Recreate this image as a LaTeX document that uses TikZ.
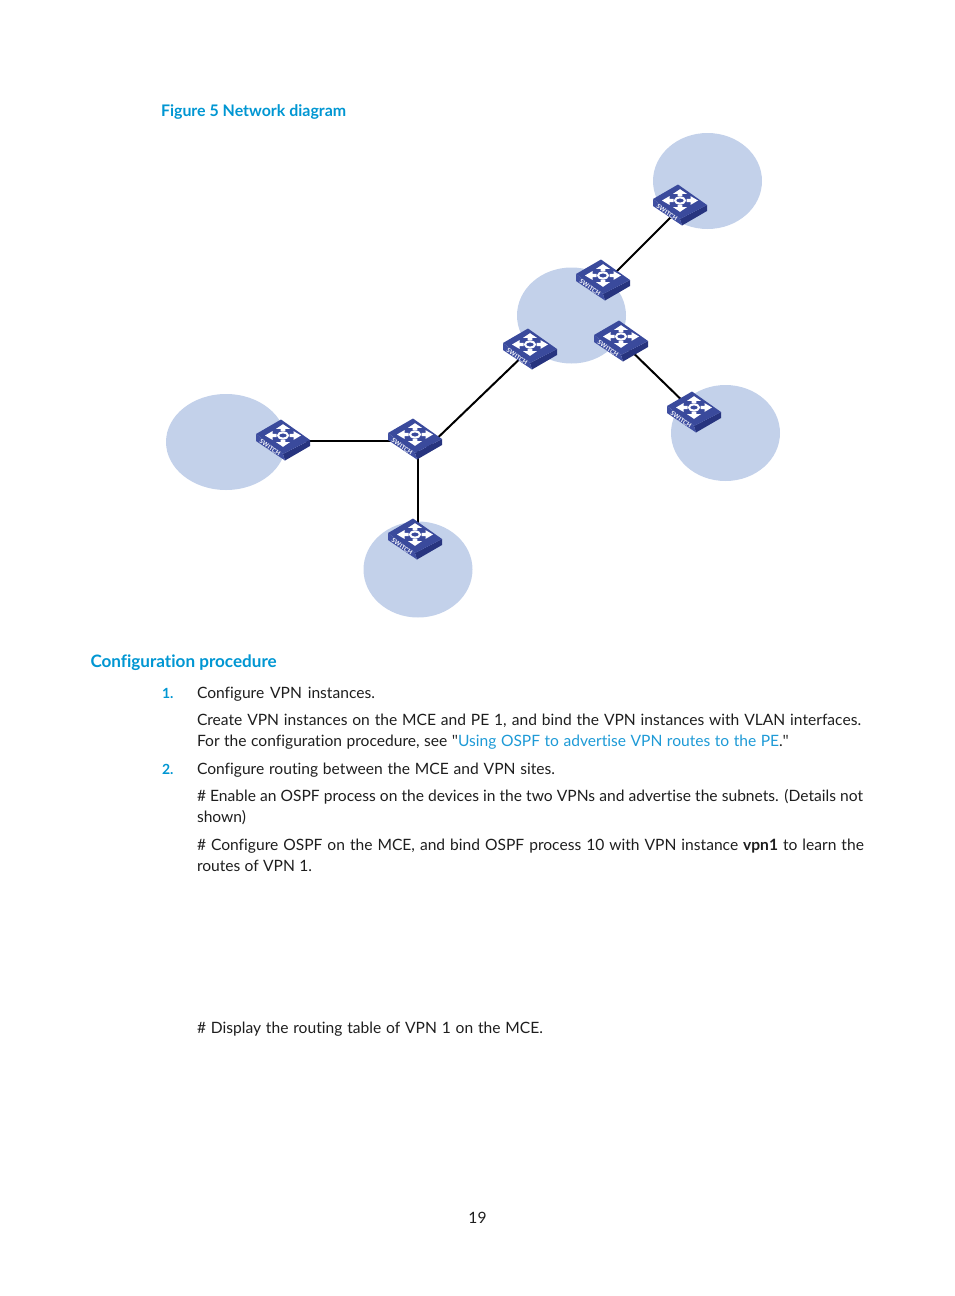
\documentclass[tikz,border=0pt]{standalone}
\usepackage{fontspec}
\setmainfont[Ligatures={TeX,NoCommon}]{Lato}
\newfontfamily\qfont{Open Sans}
\usetikzlibrary{shapes.geometric}
\definecolor{cloudc}{HTML}{C3D1EA}
\definecolor{headc}{HTML}{0096D2}
\definecolor{linkc}{HTML}{1E9AD6}
\definecolor{txtc}{HTML}{1E1E1E}
\definecolor{facec}{HTML}{3A4A9C}
\definecolor{leftc}{HTML}{3F4FA2}
\definecolor{rightc}{HTML}{27347F}
\newcommand{\fitfull}[2]{\hbox to #1pt{#2}}
\tikzset{
  x=1pt,y=-1pt,
  cloud/.style={ellipse,fill=cloudc,minimum width=109pt,minimum height=96pt,inner sep=0},
  swnode/.style={inner sep=0,minimum width=55pt,minimum height=40pt},
  link/.style={black,line width=2pt},
  body/.style={anchor=base west,inner sep=0,outer sep=0,text=txtc,font=\fontsize{15.6}{18}\selectfont},
  head/.style={anchor=base west,inner sep=0,outer sep=0,text=headc,font=\fontsize{17}{20}\selectfont},
  num/.style={anchor=base west,inner sep=0,outer sep=0,text=headc,font=\bfseries\fontsize{14}{16}\selectfont},
  switch/.pic={
    \fill[rightc] (0,14) -- (27,0) -- (27,6) -- (2,20.5) -- cycle;
    \fill[leftc] (-27,-6) -- (0,14) -- (2,20.5) -- (-27,1) -- cycle;
    \fill[facec] (-27,-6) -- (-2,-20.5) -- (27,0) -- (0,14) -- cycle;
    \begin{scope}[shift={(0,-4.5)},yscale=.63]
      \draw[white,line width=2pt] (0,0) circle (5);
      \foreach \a in {0,90,180,270}{
        \fill[white,rotate=\a] (6.5,-2.4) -- (10.5,-2.4) -- (10.5,-7) -- (18,0) -- (10.5,7) -- (10.5,2.4) -- (6.5,2.4) -- cycle;
      }
    \end{scope}
    \node[white,inner sep=0,rotate=-33,font=\bfseries\fontsize{6}{6}\selectfont] at (-13,7.5) {SWITCH};
  }
}
\begin{document}
\begin{tikzpicture}
\useasboundingbox (0,0) rectangle (954,1296);
\node[cloud] (c1) at (707.5,181) {};
\node[cloud] (c2) at (571.5,315.5) {};
\node[cloud] (c3) at (725.5,433) {};
\node[cloud,minimum width=120pt] (c4) at (226,442) {};
\node[cloud] (c5) at (418,569.5) {};
\node[swnode] (s1) at (680,205) {};
\node[swnode] (s2) at (603,280) {};
\node[swnode] (s3) at (530,349) {};
\node[swnode] (s4) at (621,341) {};
\node[swnode] (s5) at (694,412) {};
\node[swnode] (s6) at (415,439) {};
\node[swnode] (s7) at (283,440) {};
\node[swnode] (s8) at (415,539) {};
\draw[link] ([yshift=-3pt]s1.center) -- ([yshift=-5pt]s2.center);
\draw[link] (s3.center) -- ([xshift=10pt,yshift=-11pt]s6.center);
\draw[link] (s4.center) -- (s5.center);
\draw[link] ([yshift=-1pt]s7.center) -- ([yshift=-2pt]s6.center);
\draw[link] ([xshift=3pt]s6.center) -- ([xshift=3pt]s8.center);
\foreach \n in {s1,s2,s3,s4,s5,s6,s7,s8}{\pic at (\n) {switch};}
\node[head,font=\fontsize{15.95}{18}\selectfont\bfseries] (t1) at (161,116) {Figure 5 Network diagram};
\node[head,font=\fontsize{17.1}{20}\selectfont\bfseries] (t2) at (90.5,667) {Configuration procedure};
\node[num] (n1) at (162,698) {1.};
\node[body] (l1) at (197,698) {\fitfull{178}{Configure VPN instances.}};
\node[body] (l2) at (197,725) {\fitfull{664}{Create VPN instances on the MCE and PE 1, and bind the VPN instances with VLAN interfaces.}};
\node[body] (l3) at (197,746) {\fitfull{592}{For the configuration procedure, see {\qfont"}\textcolor{linkc}{Using OSPF to advertise VPN routes to the PE}.{\qfont"}}};
\node[num] (n2) at (162,774) {2.};
\node[body] (l4) at (197,774) {\fitfull{358}{Configure routing between the MCE and VPN sites.}};
\node[body] (l5) at (197,801) {\fitfull{666}{\# Enable an OSPF process on the devices in the two VPNs and advertise the subnets. (Details not}};
\node[body] (l6) at (197,822) {shown)};
\node[body] (l7) at (197,850) {\fitfull{667}{\# Configure OSPF on the MCE, and bind OSPF process 10 with VPN instance \textbf{vpn1} to learn the}};
\node[body] (l8) at (197,871) {\fitfull{115}{routes of VPN 1.}};
\node[body] (l9) at (197,1033) {\fitfull{346}{\# Display the routing table of VPN 1 on the MCE.}};
\node[body,anchor=base] (pg) at (477.5,1223) {19};
\end{tikzpicture}
\end{document}
